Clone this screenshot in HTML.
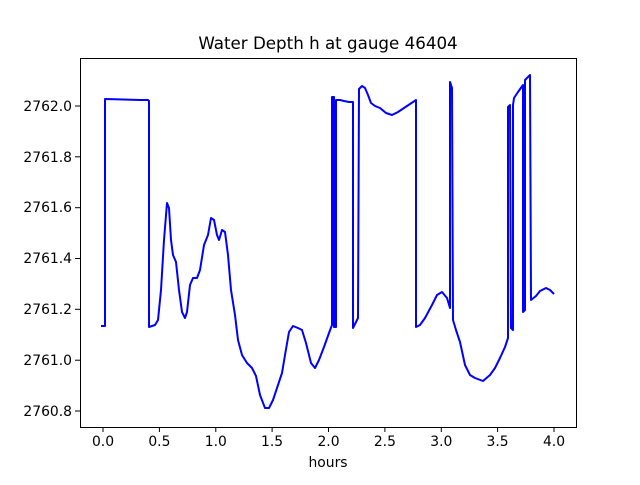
<!DOCTYPE html>
<html><head><meta charset="utf-8"><style>
body{margin:0;background:#fff;}
text{font-family:"DejaVu Sans","Liberation Sans",sans-serif;font-size:13.9px;fill:#000;}
</style></head><body>
<svg width="640" height="480" xmlns="http://www.w3.org/2000/svg">
<rect width="640" height="480" fill="#fff"/>
<text x="328" y="49" text-anchor="middle" style="font-size:16.7px">Water Depth h at gauge 46404</text>
<polyline fill="none" stroke="#0000ff" stroke-width="2" stroke-linejoin="round" points="
101,326 105,326 105,99 140,100 148,100 149,101 149,327 155,325 158,320 161,290 164,240 167,203 169,208 171,240 173,255 176,262 179,290 182,312 185,318 187,312 190,285 193,278 197,278 200,270 204,245 208,235 211,218 214,220 217,235 219,240 222,230 225,232 228,255 231,290 235,315 238,340 242,355 247,363 252,368 256,376 260,395 265,408 269,408 273,400 277,388 282,373 285,355 289,332 293,326 298,328 302,330 306,343 311,363 315,368 319,360 324,347 329,333 332,325 332,97 334,97 334,327 336,327 336,100 340,100 344,101 349,102 353,102 353,328 358,318 359,89 362,86 365,88 368,95 371,103 375,106 380,108 386,113 392,115 398,112 404,108 410,104 416,100 416,327 420,325 425,318 432,305 437,295 442,292 447,298 450,308 450,82 452,88 453,320 456,330 460,342 465,365 470,375 475,378 483,381 490,375 495,368 500,358 505,347 508,338 508,107 510,105 511,328 513,330 513,105 514,98 518,92 523,85 523,312 525,310 525,80 530,75 531,300 536,296 540,291 546,288 550,290 554,294"/>
<rect x="80.5" y="58.5" width="496" height="369" fill="none" stroke="#000" stroke-width="1"/>
<g stroke="#000" stroke-width="1">
<line x1="103" y1="427" x2="103" y2="432"/><line x1="159.4" y1="427" x2="159.4" y2="432"/><line x1="215.8" y1="427" x2="215.8" y2="432"/><line x1="272.1" y1="427" x2="272.1" y2="432"/><line x1="328.5" y1="427" x2="328.5" y2="432"/><line x1="384.9" y1="427" x2="384.9" y2="432"/><line x1="441.3" y1="427" x2="441.3" y2="432"/><line x1="497.6" y1="427" x2="497.6" y2="432"/><line x1="554" y1="427" x2="554" y2="432"/>
<line x1="75" y1="411" x2="80" y2="411"/><line x1="75" y1="360.2" x2="80" y2="360.2"/><line x1="75" y1="309.3" x2="80" y2="309.3"/><line x1="75" y1="258.5" x2="80" y2="258.5"/><line x1="75" y1="207.7" x2="80" y2="207.7"/><line x1="75" y1="156.8" x2="80" y2="156.8"/><line x1="75" y1="106" x2="80" y2="106"/>
</g>
<g text-anchor="middle">
<text x="103" y="446">0.0</text><text x="159.4" y="446">0.5</text><text x="215.8" y="446">1.0</text><text x="272.1" y="446">1.5</text><text x="328.5" y="446">2.0</text><text x="384.9" y="446">2.5</text><text x="441.3" y="446">3.0</text><text x="497.6" y="446">3.5</text><text x="554" y="446">4.0</text>
<text x="328" y="467">hours</text>
</g>
<g text-anchor="end">
<text x="72" y="416">2760.8</text><text x="72" y="365">2761.0</text><text x="72" y="314">2761.2</text><text x="72" y="263">2761.4</text><text x="72" y="212">2761.6</text><text x="72" y="162">2761.8</text><text x="72" y="111">2762.0</text>
</g>
</svg>
</body></html>
